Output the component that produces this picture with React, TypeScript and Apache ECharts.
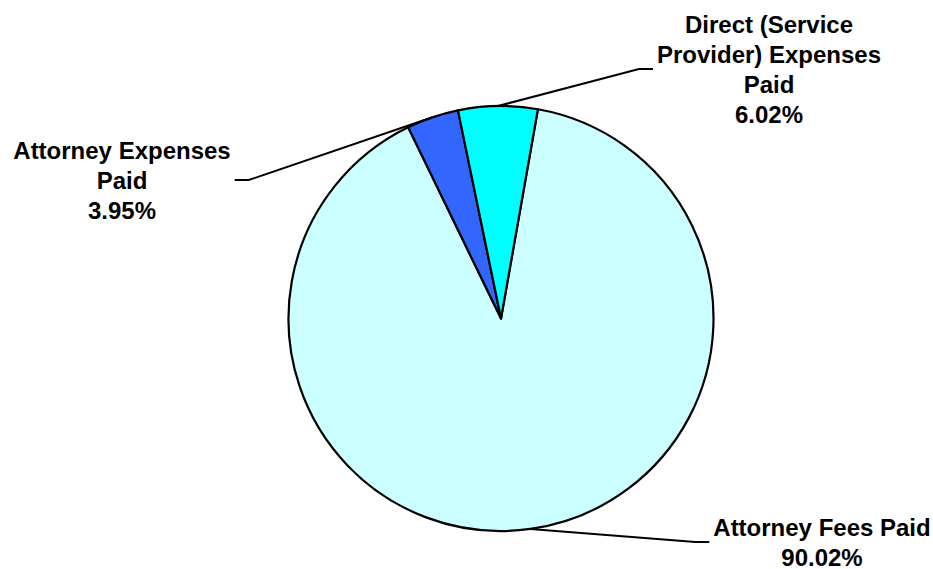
import React, { useEffect, useRef } from "react";
import * as echarts from "echarts";

const categories = [
  "Attorney Fees Paid",
  "Attorney Expenses\nPaid",
  "Direct (Service\nProvider) Expenses\nPaid",
];
const values = [90.02, 3.95, 6.02];
const colors = ["#CCFFFF", "#3366FF", "#00FFFF"];

// label anchor (center x, middle y) and which side the leader line meets
const labelPlacement = [
  { x: 822, y: 542, side: "left" },
  { x: 122, y: 180, side: "right" },
  { x: 769, y: 69, side: "left" },
];

export default function App() {
  const ref = useRef<HTMLDivElement>(null);
  useEffect(() => {
    if (!ref.current) return;
    const chart = echarts.init(ref.current, null, { renderer: "svg" });
    chart.setOption({
      animation: false,
      backgroundColor: "#ffffff",
      series: [
        {
          type: "pie",
          center: [501, 318.5],
          radius: 212.5,
          startAngle: 80,
          clockwise: true,
          silent: true,
          avoidLabelOverlap: false,
          itemStyle: { borderColor: "#000000", borderWidth: 2.2 },
          label: {
            show: true,
            formatter: (p: any) => `${p.name}\n${p.value.toFixed(2)}%`,
            color: "#000000",
            fontFamily: "'Liberation Sans', Arial, sans-serif",
            fontWeight: "bold",
            fontSize: 24,
            lineHeight: 30,
            align: "center",
          },
          labelLine: {
            show: true,
            length: 20,
            length2: 14,
            lineStyle: { color: "#000000", width: 2 },
          },
          labelLayout: (params: any) => {
            const pl = labelPlacement[params.dataIndex];
            const w = params.labelRect.width;
            const start = params.labelLinePoints
              ? params.labelLinePoints[0]
              : [pl.x, pl.y];
            const endX = pl.side === "left" ? pl.x - w / 2 - 4 : pl.x + w / 2 + 4;
            const bendX = pl.side === "left" ? endX - 14 : endX + 14;
            return {
              x: pl.x,
              y: pl.y,
              align: "center",
              verticalAlign: "middle",
              labelLinePoints: [start, [bendX, pl.y], [endX, pl.y]],
            };
          },
          data: categories.map((name, i) => ({
            name,
            value: values[i],
            itemStyle: { color: colors[i] },
          })),
        },
      ],
    });
    return () => chart.dispose();
  }, []);
  return (
    <div
      ref={ref}
      style={{ position: "fixed", left: 0, top: 0, width: 933, height: 569 }}
    />
  );
}
